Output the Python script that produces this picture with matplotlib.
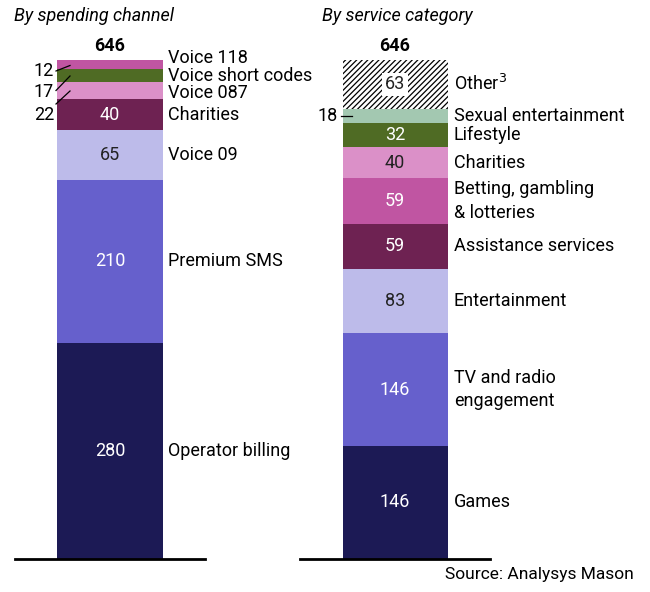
import matplotlib
matplotlib.use('Agg')
import matplotlib.pyplot as plt

plt.rcParams['font.family'] = ['Roboto', 'DejaVu Sans']
plt.rcParams['hatch.linewidth'] = 0.9

# ---------- data ----------
channel_labels = ['Operator billing', 'Premium SMS', 'Voice 09', 'Charities',
                  'Voice 087', 'Voice short codes', 'Voice 118']
channel_values = [280, 210, 65, 40, 22, 17, 12]

service_labels = ['Games', 'TV and radio\nengagement', 'Entertainment',
                  'Assistance services', 'Betting, gambling\n& lotteries',
                  'Charities', 'Lifestyle', 'Sexual entertainment', 'Other$^3$']
service_values = [146, 146, 83, 59, 59, 40, 32, 18, 63]

total = 646

# ---------- styling ----------
navy, violet, lavender = '#1c1a55', '#6660cc', '#bdbbea'
maroon, pink, olive, magenta, sage = '#6e2252', '#db90c8', '#4f6b24', '#c055a2', '#a3c8b1'

channel_colors = [navy, violet, lavender, maroon, pink, olive, magenta]
channel_text = ['white', 'white', '#222222', 'white', None, None, None]

service_colors = [navy, violet, lavender, maroon, magenta, pink, olive, sage, 'white']
service_text = ['white', 'white', '#222222', 'white', 'white', '#222222', 'white', None, '#222222']

W, H = 650, 592
fig = plt.figure(figsize=(W / 100, H / 100), dpi=100)

ymax = 700
px_per_unit = (558.7 - 60) / total
ax_h = ymax * px_per_unit
ax_bottom = (H - 558.7) / H


def make_axes(x0, x1):
    ax = fig.add_axes([x0 / W, ax_bottom, (x1 - x0) / W, ax_h / H])
    ax.set_xlim(0, 1)
    ax.set_ylim(0, ymax)
    for s in ['top', 'right', 'left']:
        ax.spines[s].set_visible(False)
    ax.spines['bottom'].set_linewidth(2)
    ax.set_xticks([])
    ax.set_yticks([])
    ax.patch.set_alpha(0)
    return ax


def px(n):
    # pixels -> data units
    return n / px_per_unit


fs = 13
bar_w = 105 / 190

# ---------- left: by spending channel ----------
ax1 = make_axes(15, 205)
xc = 0.5
bottom = 0
nudges = {6: 6.5, 4: -2}
for i, (lab, v, c) in enumerate(zip(channel_labels, channel_values, channel_colors)):
    ax1.bar(xc, v, bar_w, bottom=bottom, color=c, linewidth=0)
    mid = bottom + v / 2
    ax1.text(0.805, mid + px(nudges.get(i, 0)), lab, fontsize=fs, va='center', ha='left')
    if channel_text[i]:
        ax1.text(xc, mid, str(v), fontsize=fs, color=channel_text[i], ha='center', va='center')
    bottom += v

# small segments labelled on the left with leader lines
small_pos = {6: 71.5, 5: 92, 4: 115}
line_from = {6: 71, 5: 90.5, 4: 104}
line_to = {6: 65.5, 5: 76, 4: 91}
for i, y in small_pos.items():
    ax1.text(0.205, (558.7 - y) / px_per_unit, str(channel_values[i]), fontsize=fs,
             ha='right', va='center')
    ax1.plot([(56 - 15) / 190, (70 - 15) / 190],
             [(558.7 - line_from[i]) / px_per_unit, (558.7 - line_to[i]) / px_per_unit],
             color='black', lw=0.9, clip_on=False)

ax1.text(xc, total + px(14), str(total), fontsize=fs, fontweight='bold', ha='center', va='center')
fig.text(14 / W, 1 - 16 / H, 'By spending channel', fontsize=fs, style='italic', ha='left', va='center')

# ---------- right: by service category ----------
ax2 = make_axes(300, 490)
bottom = 0
for i, (lab, v, c) in enumerate(zip(service_labels, service_values, service_colors)):
    hatch = '//////' if i == len(service_values) - 1 else None
    ax2.bar(xc, v, bar_w, bottom=bottom, color=c, edgecolor='black' if hatch else c,
            linewidth=0, hatch=hatch)
    mid = bottom + v / 2
    ax2.text(0.81, mid, lab, fontsize=fs, va='center', ha='left', linespacing=1.4)
    if service_text[i]:
        kw = {}
        if hatch:
            kw['bbox'] = dict(facecolor='white', edgecolor='none', pad=2)
        ax2.text(xc, mid, str(v), fontsize=fs, color=service_text[i], ha='center', va='center', **kw)
    bottom += v

# the thin "Sexual entertainment" slice is labelled on the left
sex_mid = sum(service_values[:7]) + service_values[7] / 2
ax2.text((338 - 300) / 190, sex_mid, str(service_values[7]), fontsize=fs, ha='right', va='center')
ax2.plot([(340.5 - 300) / 190, (352 - 300) / 190], [sex_mid, sex_mid], color='black', lw=0.9,
         clip_on=False)

ax2.text(xc, total + px(14), str(total), fontsize=fs, fontweight='bold', ha='center', va='center')
fig.text(322 / W, 1 - 16 / H, 'By service category', fontsize=fs, style='italic', ha='left', va='center')

fig.text(634 / W, 1 - 574 / H, 'Source: Analysys Mason', fontsize=12.5,
         family=['Roboto', 'DejaVu Sans'], ha='right', va='center')

fig.savefig('out.png', dpi=100)
